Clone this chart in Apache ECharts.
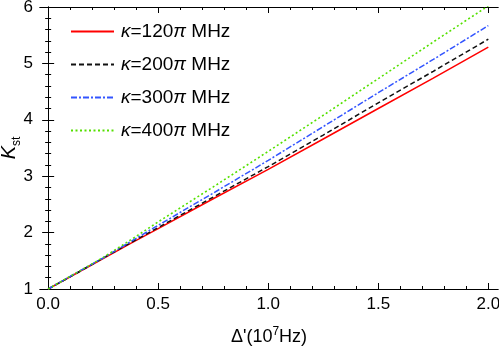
<!DOCTYPE html>
<html>
<head>
<meta charset="utf-8">
<script src="https://cdn.jsdelivr.net/npm/echarts@6/dist/echarts.min.js"></script>
<style>html,body{margin:0;padding:0;background:#fff;}#c{width:499px;height:346px;}</style>
</head>
<body>
<div id="c"></div>
<script>
// Data
var xValues = [0, 0.125, 0.25, 0.375, 0.5, 0.75, 1.0, 1.25, 1.5, 1.75, 2.0];
var k120 = [1, 1.27, 1.54, 1.81, 2.07, 2.60, 3.12, 3.66, 4.20, 4.74, 5.29];
var k200 = [1, 1.27, 1.55, 1.82, 2.09, 2.63, 3.17, 3.73, 4.30, 4.86, 5.43];
var k300 = [1, 1.28, 1.55, 1.84, 2.13, 2.70, 3.28, 3.88, 4.48, 5.07, 5.67];
var k400 = [1, 1.28, 1.56, 1.87, 2.19, 2.81, 3.44, 4.08, 4.73, 5.38, 6.02];
var seriesNames = ['κ=120π MHz', 'κ=200π MHz', 'κ=300π MHz', 'κ=400π MHz'];
var xMajorTicks = [0, 0.5, 1.0, 1.5, 2.0];
var xMinorTicks = [0.1, 0.2, 0.3, 0.4, 0.6, 0.7, 0.8, 0.9, 1.1, 1.2, 1.3, 1.4, 1.6, 1.7, 1.8, 1.9];

var FONT = '"Liberation Sans", Arial, sans-serif';
function pairs(ys) { return xValues.map(function (x, i) { return [x, ys[i]]; }); }

var XMIN = -0.037, XMAX = 2.044;
var axisLine = { show: true, lineStyle: { color: '#000', width: 1 } };

function xAxisDef(pos, ticks, len, labels, name) {
  var a = {
    type: 'value', position: pos, min: XMIN, max: XMAX,
    axisLine: axisLine,
    axisTick: { show: true, inside: true, length: len, customValues: ticks, lineStyle: { color: '#000' } },
    axisLabel: labels ? {
      show: true, customValues: ticks, fontSize: 17, color: '#000', fontFamily: FONT, margin: 7,
      formatter: function (v) { return v.toFixed(1); }
    } : { show: false },
    splitLine: { show: false }
  };
  if (name) {
    a.name = '{b|Δ\'(10}{sup|7}{b|Hz)}';
    a.nameLocation = 'middle';
    a.nameGap = 37;
    a.nameMoveOverlap = false;
    a.nameTextStyle = {
      fontFamily: FONT, color: '#000',
      rich: {
        b: { fontSize: 18, fontFamily: FONT, color: '#000', lineHeight: 20, verticalAlign: 'bottom' },
        sup: { fontSize: 12, fontFamily: FONT, color: '#000', lineHeight: 20, verticalAlign: 'top' }
      }
    };
  }
  return a;
}

function yAxisDef(pos, labels, name) {
  var a = {
    type: 'value', position: pos, min: 1, max: 6, interval: 1,
    axisLine: axisLine,
    axisTick: { show: true, inside: true, length: 6, lineStyle: { color: '#000' } },
    minorTick: { show: true, splitNumber: 5, length: 3, lineStyle: { color: '#000' } },
    axisLabel: labels ? { show: true, fontSize: 17, color: '#000', fontFamily: FONT, margin: 7 } : { show: false },
    splitLine: { show: false }
  };
  if (name) {
    a.name = '{k|K}{s|st}';
    a.nameLocation = 'middle';
    a.nameRotate = 90;
    a.nameGap = 17;
    a.nameMoveOverlap = false;
    a.nameTextStyle = {
      fontFamily: FONT, color: '#000',
      rich: {
        k: { fontSize: 20, fontStyle: 'italic', fontFamily: FONT, color: '#000', lineHeight: 24, verticalAlign: 'top' },
        s: { fontSize: 12, fontFamily: FONT, color: '#000', lineHeight: 24, verticalAlign: 'bottom' }
      }
    };
  }
  return a;
}

var lineStyles = [
  { color: '#ff0000', width: 1.5, type: 'solid' },
  { color: '#111111', width: 1.5, type: [5, 3] },
  { color: '#3355ff', width: 1.5, type: [6, 2, 2, 2] },
  { color: '#55e000', width: 1.6, type: [2, 2.5] }
];
var dataSets = [k120, k200, k300, k400];

var option = {
  animation: false,
  backgroundColor: '#fff',
  grid: { left: 40, right: 1, top: 7, bottom: 57, containLabel: false, outerBoundsMode: 'none' },
  xAxis: [
    xAxisDef('bottom', xMajorTicks, 6, true, true),
    xAxisDef('bottom', xMinorTicks, 3, false, false),
    xAxisDef('top', xMajorTicks, 6, false, false),
    xAxisDef('top', xMinorTicks, 3, false, false)
  ],
  yAxis: [
    yAxisDef('left', true, true),
    yAxisDef('right', false, false)
  ],
  legend: {
    orient: 'vertical', left: 65, top: 17,
    itemWidth: 43, itemHeight: 10, itemGap: 14,
    data: seriesNames,
    itemStyle: { opacity: 0 },
    formatter: function (n) {
      var m = n.match(/(\d+)/);
      return '{g|}{i|κ}{t|=' + m[1] + '}{i|π}{t| MHz}';
    },
    textStyle: {
      fontFamily: FONT, fontSize: 19, color: '#000',
      rich: {
        g: { width: 2, fontSize: 19 },
        i: { fontSize: 19, fontStyle: 'italic', fontFamily: FONT, color: '#000' },
        t: { fontSize: 19, fontFamily: FONT, color: '#000' }
      }
    }
  },
  series: dataSets.map(function (d, i) {
    return {
      name: seriesNames[i], type: 'line', xAxisIndex: 0, yAxisIndex: 0,
      data: pairs(d), showSymbol: false, symbol: 'none', smooth: false, clip: true,
      lineStyle: lineStyles[i], itemStyle: { color: lineStyles[i].color }
    };
  })
};
var chart = echarts.init(document.getElementById('c'), null, { renderer: 'canvas' });
chart.setOption(option);
</script>
</body>
</html>
